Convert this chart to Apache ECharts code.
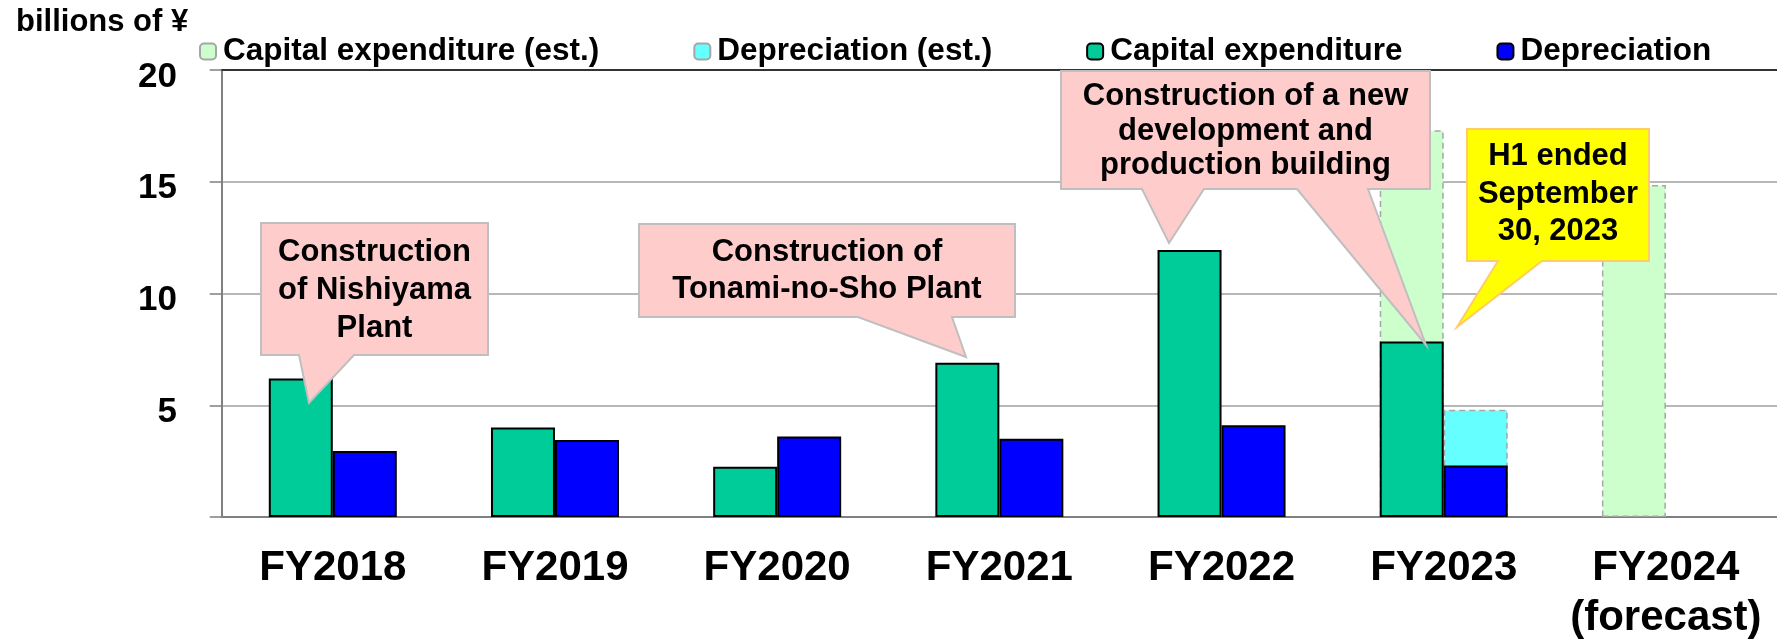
<!DOCTYPE html>
<html>
<head>
<meta charset="utf-8">
<title>Capital expenditure and depreciation</title>
<script src="https://cdn.jsdelivr.net/npm/echarts@6/dist/echarts.min.js"></script>
<style>
    html, body { margin: 0; padding: 0; background: #fff; }
    #main { width: 1777px; height: 643px; }
</style>
</head>
<body>
<div id="main"></div>
<script>
// data (billions of yen)
var categories = ["FY2018", "FY2019", "FY2020", "FY2021", "FY2022", "FY2023", "FY2024\n(forecast)"];
var capexEst = [null, null, null, null, null, 17.3, 14.85];
var deprEst = [null, null, null, null, null, 4.8, null];
var capex = [6.2, 4.0, 2.25, 6.9, 11.95, 7.85, null];
var depr = [2.95, 3.45, 3.6, 3.5, 4.1, 2.3, null];
var yTicks = [0, 5, 10, 15, 20];

var FONT = "'Liberation Sans', Arial, sans-serif";

// callout boxes (annotation shapes, pixel positions)
var callouts = [
    {
        text: "Construction\nof Nishiyama\nPlant", cx: 374.5, cy: 290, lh: 38, fill: "#ffcccc", stroke: "#bfbfbf",
        pts: [[261,223],[488,223],[488,355],[354,355],[309,403],[299,355],[261,355]]
    },
    {
        text: "Construction of\nTonami-no-Sho Plant", cx: 827, cy: 271, lh: 37.5, fill: "#ffcccc", stroke: "#bfbfbf",
        pts: [[639,224],[1015,224],[1015,317],[952,317],[966,357],[858,317],[639,317]]
    },
    {
        text: "Construction of a new\ndevelopment and\nproduction building", cx: 1245.5, cy: 131, lh: 34.5, fill: "#ffcccc", stroke: "#bfbfbf",
        pts: [[1061,71],[1430,71],[1430,189],[1368,189],[1426,345],[1297,189],[1204,189],[1169,243],[1142,189],[1061,189]]
    },
    {
        text: "H1 ended\nSeptember\n30, 2023", cx: 1558, cy: 194, lh: 37.5, fill: "#ffff00", stroke: "#ffcc66",
        pts: [[1467,129],[1649,129],[1649,261],[1542,261],[1457,327],[1498,261],[1467,261]]
    }
];

var chart = echarts.init(document.getElementById('main'));
var option = {
    animation: false,
    backgroundColor: '#fff',
    legend: {
        left: 199, top: 35.5, padding: 0,
        itemWidth: 16, itemHeight: 16, itemGap: 94,
        data: ['Capital expenditure (est.)', 'Depreciation (est.)', 'Capital expenditure', 'Depreciation'],
        textStyle: { fontFamily: FONT, fontWeight: 'bold', fontSize: 31.5, color: '#000', lineHeight: 32, padding: [0, 0, 0, 2] }
    },
    grid: { left: 221.7, top: 70, bottom: 120.7, right: -11.3 },
    xAxis: [{
        type: 'category',
        data: categories,
        axisLine: { lineStyle: { color: '#808080', width: 2 } },
        axisTick: { length: 13, lineStyle: { color: '#808080', width: 1.5 } },
        axisLabel: {
            margin: 26, color: '#000', fontFamily: FONT, fontWeight: 'bold', fontSize: 42, lineHeight: 50,
            interval: 0
        }
    }, {
        type: 'category',
        data: categories,
        position: 'top',
        axisLine: { lineStyle: { color: '#333', width: 2 } },
        axisTick: { show: false },
        axisLabel: { show: false }
    }],
    yAxis: {
        type: 'value',
        min: yTicks[0], max: yTicks[yTicks.length - 1], interval: 5,
        axisLine: { show: true, lineStyle: { color: '#808080', width: 2 } },
        axisTick: { show: true, length: 12, lineStyle: { color: '#808080', width: 1.5 } },
        splitLine: { lineStyle: { color: '#a0a0a0', width: 1.5 } },
        axisLabel: { show: false }
    },
    series: [{
        name: 'Capital expenditure (est.)', type: 'bar', xAxisIndex: 1,
        data: capexEst, barWidth: 64, barGap: '0%',
        itemStyle: { color: '#ccffcc', borderColor: '#a6a6a6', borderWidth: 1.5, borderType: [6, 4] }
    }, {
        name: 'Depreciation (est.)', type: 'bar', xAxisIndex: 1,
        data: deprEst, barWidth: 64, barGap: '0%',
        itemStyle: { color: '#66ffff', borderColor: '#a6a6a6', borderWidth: 1.5, borderType: [6, 4] }
    }, {
        name: 'Capital expenditure', type: 'bar', xAxisIndex: 0,
        data: capex, barWidth: 64, barGap: '0%',
        itemStyle: { color: '#00cc99', borderColor: '#000', borderWidth: 2 }
    }, {
        name: 'Depreciation', type: 'bar', xAxisIndex: 0,
        data: depr, barWidth: 64, barGap: '0%',
        itemStyle: { color: '#0000ff', borderColor: '#000', borderWidth: 2 }
    }]
};
chart.setOption(option);

// y labels sit a little below their gridlines in the original, so place them by hand
var graphics = [{
    type: 'text', x: 16, y: 22, z: 100,
    style: { text: 'billions of ¥', font: 'bold 31px ' + FONT, fill: '#000', align: 'left', verticalAlign: 'middle' }
}];
yTicks.forEach(function (v) {
    if (v === 0) return;
    var py = chart.convertToPixel({ yAxisIndex: 0 }, v);
    graphics.push({
        type: 'text', x: 177, y: py + 7, z: 100,
        style: { text: String(v), font: 'bold 35px ' + FONT, fill: '#000', align: 'right', verticalAlign: 'middle' }
    });
});
callouts.forEach(function (c) {
    graphics.push({
        type: 'polygon', z: 100,
        shape: { points: c.pts },
        style: { fill: c.fill, stroke: c.stroke, lineWidth: 2 }
    });
    graphics.push({
        type: 'text', x: c.cx, y: c.cy, z: 101,
        style: {
            text: c.text, font: 'bold 31px ' + FONT, fill: '#000',
            align: 'center', verticalAlign: 'middle', lineHeight: c.lh
        }
    });
});
chart.setOption({ graphic: graphics });
</script>
</body>
</html>
